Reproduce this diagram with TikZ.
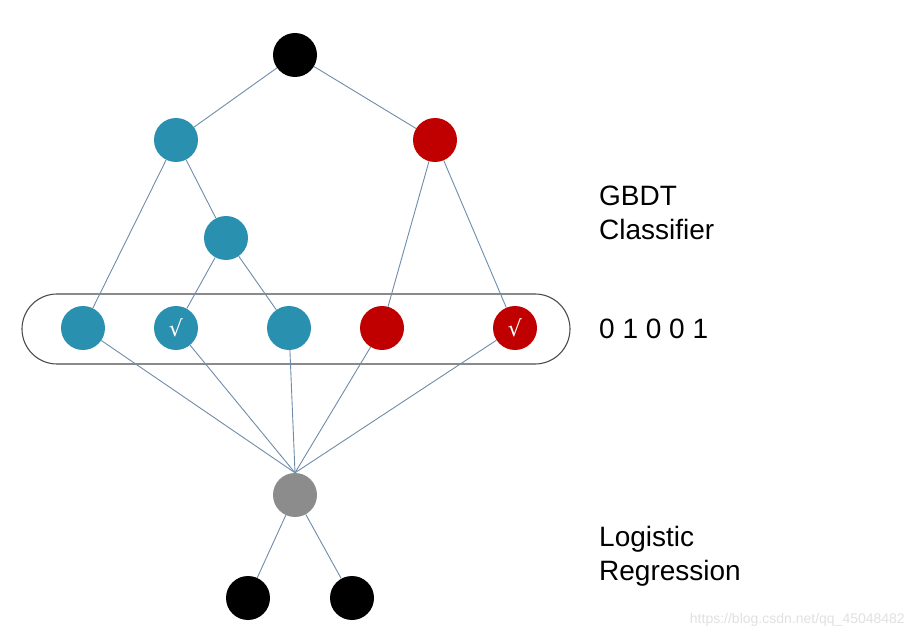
\documentclass[tikz,border=0pt]{standalone}
\usepackage{fontspec}
\setmainfont{Liberation Sans}
\newfontfamily\serifcheck{DejaVu Serif}
\definecolor{tblue}{RGB}{42,144,176}
\definecolor{tred}{RGB}{192,0,0}
\definecolor{tgray}{RGB}{140,140,140}
\definecolor{edgec}{RGB}{110,140,170}
\begin{document}
\begin{tikzpicture}[x=1pt,y=-1pt,
  dot/.style={circle,minimum size=44pt,inner sep=0pt},
  bdot/.style={dot,fill=black},
  udot/.style={dot,fill=tblue},
  rdot/.style={dot,fill=tred},
  gdot/.style={dot,fill=tgray},
  edge/.style={draw=edgec,line width=0.9pt},
  lbl/.style={anchor=base west,font=\fontsize{28}{32}\selectfont,inner sep=0pt},
  chk/.style={text=white,font=\serifcheck\fontsize{22}{22}\selectfont}]
\useasboundingbox (0,0) rectangle (914,639);
\node[bdot] (root) at (295,55) {};
\node[udot] (b1) at (176,140) {};
\node[rdot] (r1) at (435,140) {};
\node[udot] (b2) at (226,238) {};
\node[udot] (l1) at (83,328) {};
\node[udot,chk] (l2) at (176,328) {√};
\node[udot] (l3) at (289,328) {};
\node[rdot] (l4) at (382,328) {};
\node[rdot,chk] (l5) at (515,328) {√};
\node[gdot] (lr) at (295,495) {};
\node[bdot] (o1) at (248,598) {};
\node[bdot] (o2) at (352,598) {};
\node[draw=black!70,line width=1.1pt,rounded corners=35pt,minimum width=548pt,minimum height=70pt,inner sep=0pt] (box) at (296,329) {};
\draw[edge] (root) -- (b1);
\draw[edge] (root) -- (r1);
\draw[edge] (b1) -- (l1);
\draw[edge] (b1) -- (b2);
\draw[edge] (b2) -- (l2);
\draw[edge] (b2) -- (l3);
\draw[edge] (r1) -- (l4);
\draw[edge] (r1) -- (l5);
\foreach \n in {l1,l2,l3,l4,l5} \draw[edge] (\n) -- (lr.north);
\draw[edge] (lr) -- (o1);
\draw[edge] (lr) -- (o2);
\node[lbl] (gbdt) at (599,206) {GBDT};
\node[lbl] (clsf) at (599,240) {Classifier};
\node[lbl] (code) at (599,338) {0 1 0 0 1};
\node[lbl] (logi) at (599,546) {Logistic};
\node[lbl] (regr) at (599,580) {Regression};
\node[anchor=east,inner sep=0pt,text=black!12,font=\fontsize{14}{14}\selectfont] (wm) at (905,620) {https://blog.csdn.net/qq\_45048482};
\end{tikzpicture}
\end{document}
